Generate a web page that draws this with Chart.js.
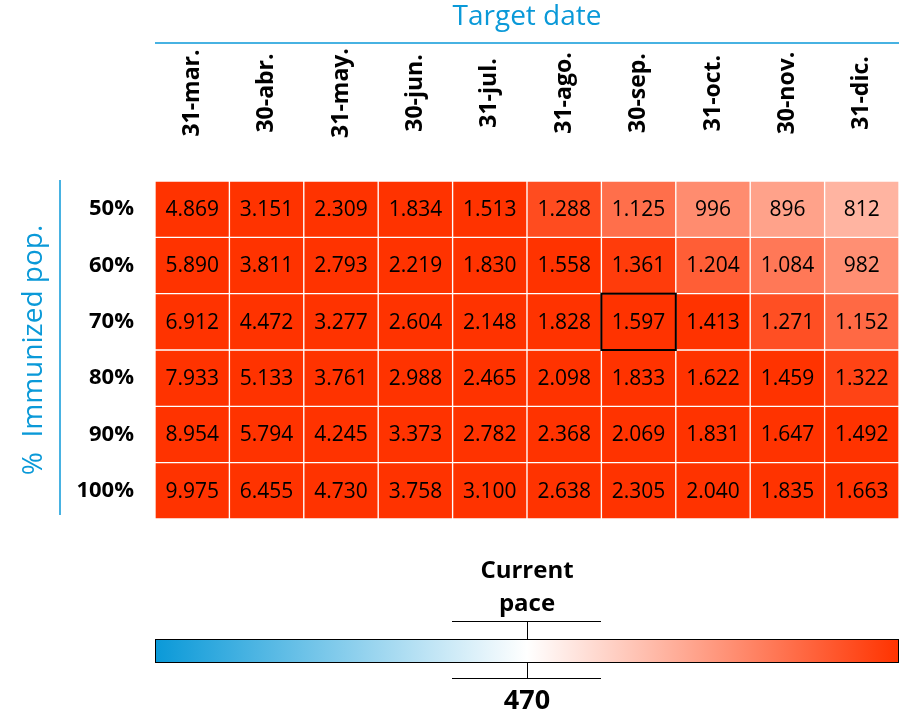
<!DOCTYPE html>
<html>
<head>
<meta charset="utf-8">
<script src="https://cdn.jsdelivr.net/npm/chart.js@4"></script>
<style>
  body { margin: 0; background: #fff; }
</style>
</head>
<body>
<canvas id="heatChart" width="910" height="717"></canvas>
<script>
const dates = ['31-mar.', '30-abr.', '31-may.', '30-jun.', '31-jul.', '31-ago.', '30-sep.', '31-oct.', '30-nov.', '31-dic.'];
const popLevels = ['50%', '60%', '70%', '80%', '90%', '100%'];

// daily doses needed, one array per % of immunized population
const pop50  = [4869, 3151, 2309, 1834, 1513, 1288, 1125, 996, 896, 812];
const pop60  = [5890, 3811, 2793, 2219, 1830, 1558, 1361, 1204, 1084, 982];
const pop70  = [6912, 4472, 3277, 2604, 2148, 1828, 1597, 1413, 1271, 1152];
const pop80  = [7933, 5133, 3761, 2988, 2465, 2098, 1833, 1622, 1459, 1322];
const pop90  = [8954, 5794, 4245, 3373, 2782, 2368, 2069, 1831, 1647, 1492];
const pop100 = [9975, 6455, 4730, 3758, 3100, 2638, 2305, 2040, 1835, 1663];
const rowValues = [pop50, pop60, pop70, pop80, pop90, pop100];

const currentPace = 470;
const fullRedAt = 1400;
const highlightRow = '70%';
const highlightDate = '30-sep.';

const blue = '#0a99d8';
const FONT = "'Open Sans', 'DejaVu Sans', sans-serif";

function cellColor(v) {
  if (v >= currentPace) {
    const t = Math.min(1, (v - currentPace) / (fullRedAt - currentPace));
    return `rgb(255, ${Math.round(255 - t * 204)}, ${Math.round(255 - t * 255)})`;
  }
  const t = Math.min(1, (currentPace - v) / currentPace);
  return `rgb(${Math.round(255 - t * 245)}, ${Math.round(255 - t * 102)}, ${Math.round(255 - t * 39)})`;
}

function formatValue(v) {
  return String(v).replace(/\B(?=(\d{3})+(?!\d))/g, '.');
}

const extras = {
  id: 'extras',
  afterDraw(chart) {
    const {ctx, chartArea, scales: {x}} = chart;
    const left = chartArea.left, right = chartArea.right;
    const mid = (left + right) / 2;
    ctx.save();

    // top title + line
    ctx.fillStyle = blue;
    ctx.font = `28px ${FONT}`;
    ctx.textAlign = 'center';
    ctx.textBaseline = 'middle';
    ctx.fillText('Target date', mid, 17);
    ctx.strokeStyle = blue;
    ctx.lineWidth = 1.5;
    ctx.beginPath();
    ctx.moveTo(left, 43);
    ctx.lineTo(right, 43);
    ctx.stroke();

    // left line next to y title
    ctx.beginPath();
    ctx.moveTo(60, chartArea.top - 1);
    ctx.lineTo(60, chartArea.bottom - 4);
    ctx.stroke();

    // date labels, rotated
    ctx.fillStyle = '#000';
    ctx.font = `bold 23px ${FONT}`;
    dates.forEach((d, i) => {
      ctx.save();
      ctx.translate(x.getPixelForValue(i), 93);
      ctx.rotate(-Math.PI / 2);
      ctx.fillText(d, 0, 0);
      ctx.restore();
    });

    // values inside cells
    ctx.font = `21px ${FONT}`;
    rowValues.forEach((vals, i) => {
      const meta = chart.getDatasetMeta(i);
      meta.data.forEach((bar, j) => {
        const cy = (bar.y + bar.base) / 2;
        ctx.fillText(formatValue(vals[j]), bar.x, cy + 1);
      });
    });

    // highlighted cell
    const hBar = chart.getDatasetMeta(popLevels.indexOf(highlightRow)).data[dates.indexOf(highlightDate)];
    const top = Math.min(hBar.y, hBar.base), h = Math.abs(hBar.base - hBar.y);
    ctx.strokeStyle = '#000';
    ctx.lineWidth = 2;
    ctx.strokeRect(hBar.x - hBar.width / 2, top, hBar.width, h);

    // colour bar
    const cbTop = 639, cbBottom = 662;
    const grad = ctx.createLinearGradient(left, 0, right, 0);
    grad.addColorStop(0, cellColor(0));
    grad.addColorStop(0.5, cellColor(currentPace));
    grad.addColorStop(1, cellColor(fullRedAt));
    ctx.fillStyle = grad;
    ctx.fillRect(left, cbTop, right - left, cbBottom - cbTop);
    ctx.lineWidth = 1;
    ctx.strokeRect(left + 0.5, cbTop + 0.5, right - left - 1, cbBottom - cbTop);

    // current pace marker
    const cx = Math.round(mid) + 0.5;
    ctx.beginPath();
    ctx.moveTo(cx, 621); ctx.lineTo(cx, cbTop);
    ctx.moveTo(452, 621.5); ctx.lineTo(601, 621.5);
    ctx.moveTo(cx, cbBottom); ctx.lineTo(cx, 678);
    ctx.moveTo(452, 678.5); ctx.lineTo(601, 678.5);
    ctx.stroke();

    ctx.fillStyle = '#000';
    ctx.font = `bold 24px ${FONT}`;
    ctx.fillText('Current', mid, 571);
    ctx.fillText('pace', mid, 604);
    ctx.font = `bold 27px ${FONT}`;
    ctx.fillText(String(currentPace), mid, 701);

    ctx.restore();
  }
};

new Chart(document.getElementById('heatChart'), {
  type: 'bar',
  data: {
    labels: dates,
    datasets: rowValues.map((vals, i) => ({
      label: popLevels[i],
      data: vals.map(() => 1),
      backgroundColor: vals.map(cellColor),
      borderColor: '#ffffff',
      borderWidth: 1,
      borderSkipped: false,
      barPercentage: 1,
      categoryPercentage: 1
    }))
  },
  options: {
    responsive: false,
    animation: false,
    events: [],
    layout: {
      padding: {left: 0, right: 11, top: 181, bottom: 198}
    },
    plugins: {
      legend: {display: false},
      tooltip: {enabled: false}
    },
    scales: {
      x: {
        display: false,
        stacked: true
      },
      y: {
        stacked: true,
        reverse: true,
        min: 0,
        max: 6,
        afterFit(scale) { scale.width = 155; },
        afterBuildTicks(scale) {
          scale.ticks = popLevels.map((p, i) => ({value: i + 0.5}));
        },
        grid: {display: false, drawTicks: false},
        border: {display: false},
        ticks: {
          padding: 21,
          color: '#000',
          font: {family: FONT, size: 22, weight: 'bold'},
          callback: (value) => popLevels[Math.floor(value)]
        },
        title: {
          display: true,
          text: '%  Immunized pop.',
          color: blue,
          font: {family: FONT, size: 28},
          padding: {top: 17}
        }
      }
    }
  },
  plugins: [extras]
});
</script>
</body>
</html>
